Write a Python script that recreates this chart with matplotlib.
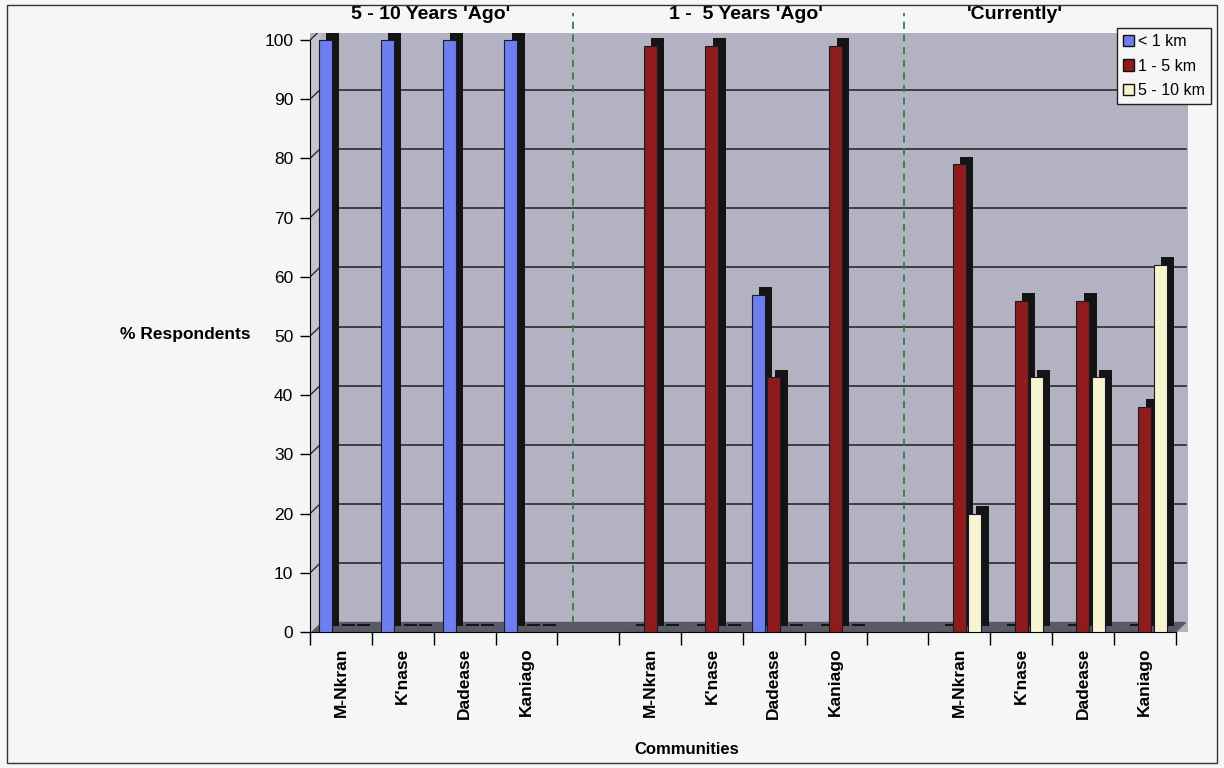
import matplotlib
matplotlib.use("Agg")
import matplotlib.pyplot as plt
from matplotlib.patches import Rectangle, Polygon
import numpy as np

plt.rcParams['font.family'] = ['Liberation Sans', 'DejaVu Sans']

# data
communities = ["M-Nkran", "K'nase", "Dadease", "Kaniago"]
periods = ["5 - 10 Years 'Ago'", "1 -  5 Years 'Ago'", "'Currently'"]
series_names = ["< 1 km", "1 - 5 km", "5 - 10 km"]
under_1km = [100, 100, 100, 100, 0, 0, 57, 0, 0, 0, 0, 0]
km_1_5 = [0, 0, 0, 0, 99, 99, 43, 99, 79, 56, 56, 38]
km_5_10 = [0, 0, 0, 0, 0, 0, 0, 0, 20, 43, 43, 62]
colors = ['#6c7ef0', '#8e1c1c', '#f7f4cf']

# layout tweaks (hand drawn separators / titles in the original)
sep_x = [4.26, 9.6]
title_x = [1.95, 7.05, 11.4]

fig = plt.figure(figsize=(12.24, 7.68), dpi=100, facecolor='#f6f6f6')
ax = fig.add_axes([0.2533, 0.1771, 0.7173, 0.780])
ax.set_facecolor('#b2b2c2')
ax.set_xlim(0, 14.2)
ax.set_ylim(0, 101.2)

n_slots = len(periods) * (len(communities) + 1) - 1
centers = np.array([g * 5 + i + 0.5 for g in range(len(periods))
                    for i in range(len(communities))])

# 3d-ish floor and side wall
dx, dy = 0.16, 1.6
ax.add_patch(Polygon([(0, 0), (n_slots, 0), (n_slots + dx, dy), (dx, dy)],
                     closed=True, color='#5a5a66', zorder=1))
ax.add_patch(Polygon([(0, 0), (dx, dy), (dx, 100 + dy), (0, 100)],
                     closed=True, color='#c4c4cc', zorder=1))
for v in range(10, 101, 10):
    ax.plot([dx, n_slots + dx], [v + dy, v + dy], color='#2a2a2a', lw=1.2, zorder=2)
    ax.plot([0, dx], [v, v + dy], color='#2a2a2a', lw=1.0, zorder=2)

for sx in sep_x:
    ax.plot([sx, sx], [1.5, 104.5], color='#2f7d4a', lw=1.3, ls=(0, (4, 3)),
            zorder=3, clip_on=False)

w = 0.21
offsets = [-0.25, 0.0, 0.25]
bdx, bdy = 0.12, 1.0
for vals, off, col, name in zip([under_1km, km_1_5, km_5_10], offsets, colors, series_names):
    vals = np.array(vals)
    ax.bar(centers + off + bdx, vals + 0.3, width=w, bottom=bdy, color='#141414', zorder=4)
    ax.bar(centers + off, vals, width=w, color=col, edgecolor='#1a1a2a', lw=0.8,
           zorder=5, label=name)

# axes styling
for s in ['top', 'right']:
    ax.spines[s].set_visible(False)
ax.spines['left'].set_bounds(0, 100)
ax.spines['bottom'].set_bounds(0, n_slots)
ax.set_yticks(range(0, 101, 10))
ax.tick_params(axis='y', labelsize=12.5, length=7, width=1, pad=5)
ax.set_xticks(np.arange(0, n_slots + 1), labels=[''] * (n_slots + 1))
ax.set_xticks(centers, labels=communities * len(periods), minor=True)
ax.tick_params(axis='x', which='major', length=9, width=1, direction='out')
ax.tick_params(axis='x', which='minor', length=0, pad=11, labelsize=12.5,
               labelrotation=90)
for t in ax.get_xticklabels(minor=True):
    t.set_fontweight('bold')

for tx, p in zip(title_x, periods):
    ax.text(tx, 104.3, p, ha='center', va='center', fontsize=14,
            fontweight='bold', clip_on=False)

fig.text(0.205, 0.564, '% Respondents', ha='right', va='center',
         fontsize=12.5, fontweight='bold')
fig.text(0.561, 0.024, 'Communities', ha='center', va='center',
         fontsize=12, fontweight='bold')

leg = fig.legend(loc='upper right', bbox_to_anchor=(0.989, 0.963), fontsize=11.5,
                 frameon=True, fancybox=False, edgecolor='#222222',
                 facecolor='#f6f6f6', framealpha=1, handlelength=0.7,
                 handleheight=0.7, handletextpad=0.25, labelspacing=0.6,
                 borderpad=0.35, borderaxespad=0)
leg.get_frame().set_linewidth(1.0)
for h in leg.legend_handles:
    h.set_edgecolor('#111111')
    h.set_linewidth(1.0)

fig.add_artist(Rectangle((0.006, 0.006), 0.988, 0.988, transform=fig.transFigure,
                         fill=False, edgecolor='#333333', lw=1.0))

fig.savefig('out.png', dpi=100, facecolor=fig.get_facecolor())
